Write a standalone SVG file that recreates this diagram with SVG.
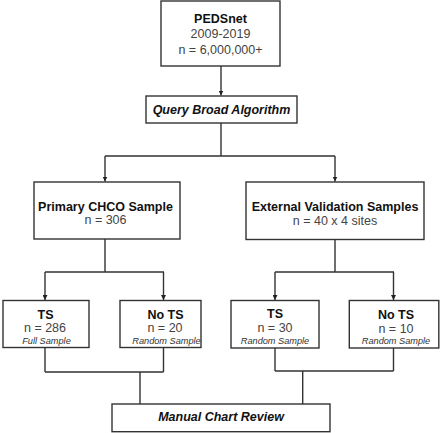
<svg xmlns="http://www.w3.org/2000/svg" width="440" height="433" viewBox="0 0 440 433">
<defs>
<style>
.box{fill:#fff;stroke:#333;stroke-width:1.4}
.ln{fill:none;stroke:#333;stroke-width:1.4}
.arr{marker-end:url(#ah)}
text{font-family:"Liberation Sans",Arial,sans-serif;text-anchor:middle}
.b{font-weight:bold;font-size:12.5px;fill:#111}
.bi{font-weight:bold;font-style:italic;font-size:12.5px;fill:#111}
.r{font-size:12.5px;fill:#444}
.s{font-style:italic;font-size:9.2px;fill:#333}
</style>
<marker id="ah" viewBox="0 0 8 8" refX="8" refY="4" markerWidth="5" markerHeight="5" markerUnits="userSpaceOnUse" orient="auto">
<path d="M0,0 L8,4 L0,8 z" fill="#222"/>
</marker>
</defs>
<rect width="440" height="433" fill="#fff"/>
<g id="connectors">
<path class="ln arr" d="M221,66 V95.5"/>
<path class="ln" d="M221,123 V156 M105,156 H335"/>
<path class="ln arr" d="M105,156 V181.5"/>
<path class="ln arr" d="M335,156 V181.5"/>
<path class="ln" d="M105,239 V272 M45,272 H164"/>
<path class="ln arr" d="M45,272 V300"/>
<path class="ln arr" d="M163.5,272 V300"/>
<path class="ln" d="M335,239.5 V272 M275,272 H394"/>
<path class="ln arr" d="M275,272 V300"/>
<path class="ln arr" d="M393.5,272 V300"/>
<path class="ln" d="M45,347.5 V372 M163.5,347.5 V372 M45,372 H163.5 M140,372 V404"/>
<path class="ln" d="M275,348 V371 M393.5,348 V371 M275,371 H393.5 M302.7,371 V404"/>
</g>
<g id="pedsnet">
<rect class="box" x="161" y="1" width="119" height="65"/>
<text class="b" x="220.5" y="22.5">PEDSnet</text>
<text class="r" x="220.5" y="37.5">2009-2019</text>
<text class="r" x="220.5" y="53.5">n = 6,000,000+</text>
</g>
<g id="query">
<rect class="box" x="146" y="96" width="151" height="27"/>
<text class="bi" x="221.5" y="113.8">Query Broad Algorithm</text>
</g>
<g id="primary">
<rect class="box" x="34" y="182" width="146" height="57"/>
<text class="b" x="105.5" y="210.5">Primary CHCO Sample</text>
<text class="r" x="105.5" y="223.8">n = 306</text>
</g>
<g id="external">
<rect class="box" x="246" y="182" width="178" height="57.5"/>
<text class="b" x="335" y="211">External Validation Samples</text>
<text class="r" x="335" y="225">n = 40 x 4 sites</text>
</g>
<g id="ts1">
<rect class="box" x="3" y="300.5" width="86" height="47"/>
<text class="b" x="45.5" y="318.8">TS</text>
<text class="r" x="45" y="332.2">n = 286</text>
<text class="s" x="46.5" y="344">Full Sample</text>
</g>
<g id="nots1">
<rect class="box" x="120" y="300.5" width="81" height="47"/>
<text class="b" x="165.5" y="318.8">No TS</text>
<text class="r" x="165" y="332.2">n = 20</text>
<text class="s" x="166.5" y="344">Random Sample</text>
</g>
<g id="ts2">
<rect class="box" x="231" y="300.5" width="88" height="47.5"/>
<text class="b" x="275" y="318">TS</text>
<text class="r" x="275" y="332.2">n = 30</text>
<text class="s" x="275" y="344.3">Random Sample</text>
</g>
<g id="nots2">
<rect class="box" x="349.3" y="300.5" width="89.5" height="47.5"/>
<text class="b" x="396" y="319.2">No TS</text>
<text class="r" x="396" y="332.5">n = 10</text>
<text class="s" x="396" y="344.3">Random Sample</text>
</g>
<g id="manual">
<rect class="box" x="112" y="404" width="218" height="27.7"/>
<text class="bi" x="221" y="421.2">Manual Chart Review</text>
</g>
</svg>
